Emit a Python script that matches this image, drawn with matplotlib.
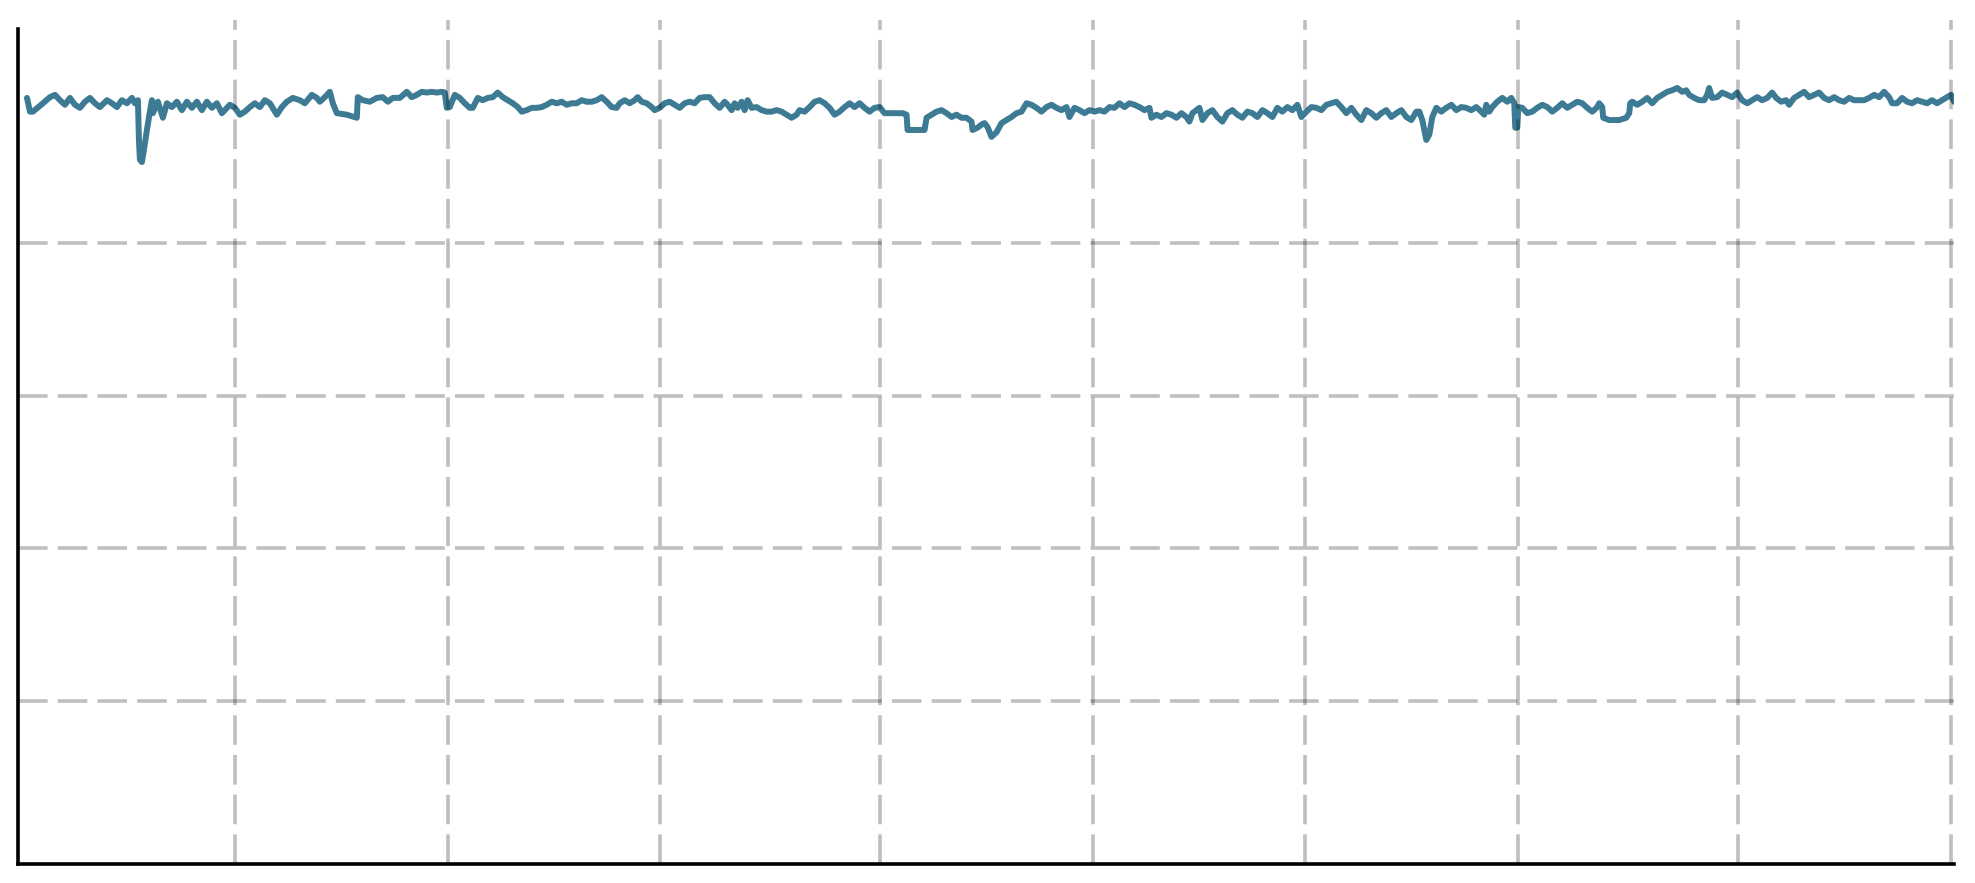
import matplotlib
matplotlib.use("Agg")
import matplotlib.pyplot as plt

# time index (samples) and measured value
t = [0, 1.5, 3, 8, 11.5, 14, 16.5, 19, 21.5, 24, 26.5, 29, 31.5, 34, 36.5, 40, 42.5, 45, 47.5, 50,
     52.5, 54, 55.5, 56, 56.5, 57.5, 58.5, 60, 61.5, 62.5, 63, 65.5, 68, 70, 72.5, 75, 77.5, 80, 82.5, 85,
     87.5, 90, 92.5, 95, 97.5, 101.5, 104, 106.5, 109, 111.5, 114, 116.5, 119, 121.5, 125, 127.5, 130, 133, 136.5, 139,
     142.5, 145, 146.5, 149, 151.5, 153, 155, 160, 165, 165.5, 168, 171.5, 175, 178, 180.5, 183,
     186.5, 190, 192.5, 195, 197.5, 200, 202.5, 205, 207.5, 209, 210, 211.5, 214, 216.5, 219, 221.5, 223, 225.5, 228, 230.5,
     233, 235.5, 238, 240.5, 243, 245.5, 247.5, 250, 252.5, 255, 257.5, 260, 262.5, 265, 267.5, 270, 272.5, 275, 277.5, 280,
     282.5, 285, 287.5, 290, 292.5, 295, 296.5, 299, 301.5, 304, 305.5, 307.5, 310, 312.5, 314, 316.5, 319, 321.5, 324, 326.5,
     329, 331.5, 334, 336.5, 339, 341.5, 344, 346.5, 349, 350.5, 352.5, 354, 355.5, 357.5, 359, 360.5, 362.5, 365, 367.5, 370,
     372.5, 375, 377.5, 380, 382.5, 385,
     386.5, 389, 391.5, 394, 396.5, 399, 401.5, 404, 406.5, 409, 411.5, 414, 416.5, 419, 421.5, 424, 426.5, 429, 431.5, 435,
     438, 440, 440.5, 443, 446.5, 449, 450, 452.5, 455, 457.5, 460, 462.5, 465, 467.5, 470, 472.5, 473, 475.5, 477.5, 479,
     480.5, 482.5, 485, 487.5, 490, 492.5, 495, 497.5, 500, 502.5, 505, 507.5, 510, 512.5, 515, 517.5, 520, 521.5, 524, 526.5,
     529, 531.5, 534, 536.5, 539, 541.5, 544, 546.5, 549, 551.5, 554, 556.5, 559, 561.5, 562.5, 565, 567.5, 570, 572.5, 575,
     577.5, 580, 581.5, 583,
     586.5, 588, 590.5, 593, 595.5, 598, 600.5, 603, 605.5, 608, 610.5, 613, 615.5, 618, 620.5, 623, 625.5, 628, 630.5, 633,
     635.5, 637.5, 640, 642.5, 645, 647.5, 650, 652.5, 655, 657.5, 660, 662.5, 665, 667.5, 670, 672.5, 675, 677.5, 680, 682.5,
     685, 687.5, 690, 692.5, 695, 696.5, 698, 700, 701.5, 703, 705, 707.5, 710, 712.5, 715, 717.5, 720, 722.5, 725, 727.5,
     729, 730, 731.5, 733, 735.5, 738, 740.5, 742.5, 744, 744.5, 745.5, 746, 748, 750.5, 753, 755.5, 758, 760.5, 763, 765.5,
     768, 770.5, 773, 775.5, 778, 780.5, 783, 785.5,
     786.5, 788, 788.5, 791.5, 796.5, 800, 801.5, 802, 803, 805.5, 808, 810.5, 813, 815.5, 818, 820.5, 823, 825.5, 828, 830,
     831.5, 834, 836.5, 839, 840.5, 841.5, 843, 845.5, 848, 850.5, 853, 855.5, 858, 860.5, 863, 865.5, 868, 870.5, 873, 875,
     877.5, 880, 881.5, 884, 886.5, 889, 891.5, 894, 896.5, 899, 901.5, 904, 906.5, 909, 911.5, 914, 916.5, 919, 921.5, 924,
     926.5, 929, 931.5, 933, 935.5, 938, 940.5, 943, 945.5, 948, 950.5, 953, 955.5, 958, 960.5, 962.5, 964]

value = [990, 972, 972, 983, 991, 994, 987, 981, 990, 981, 977, 985, 990, 983, 978, 987, 983, 978, 987, 983,
         990, 983, 987, 935, 909, 906, 922, 948, 972, 987, 970, 985, 964, 983, 978, 985, 974, 985, 977, 985,
         974, 985, 977, 983, 970, 981, 977, 968, 972, 978, 983, 978, 987, 983, 968, 978, 985, 990, 987, 983,
         994, 990, 985, 991, 998, 983, 970, 968, 964, 991, 987, 985, 990, 991, 985, 990,
         990, 998, 991, 994, 998, 997, 998, 997, 998, 997, 977, 978, 994, 990, 983, 977, 977, 990, 987, 990,
         991, 997, 991, 987, 983, 978, 972, 974, 977, 977, 978, 981, 985, 983, 985, 981, 983, 983, 987, 985,
         985, 987, 991, 985, 978, 977, 983, 987, 983, 987, 991, 985, 983, 978, 974, 977, 983, 985, 981, 977,
         983, 985, 983, 990, 991, 991, 983, 977, 985, 981, 974, 983, 977, 985, 974, 987, 977, 978, 974, 972,
         972, 974, 972, 968, 964, 968,
         974, 972, 978, 985, 987, 983, 977, 968, 972, 978, 983, 978, 983, 977, 972, 977, 978, 970, 970, 970,
         970, 968, 948, 948, 948, 948, 964, 968, 972, 974, 970, 965, 968, 964, 964, 959, 948, 951, 955, 957,
         952, 939, 945, 957, 961, 965, 970, 972, 983, 981, 977, 972, 978, 981, 977, 974, 978, 965, 977, 974,
         970, 974, 972, 974, 972, 978, 977, 983, 978, 983, 981, 978, 974, 977, 964, 968, 965, 970, 968, 964,
         970, 965, 959, 970,
         977, 961, 970, 974, 965, 959, 970, 974, 968, 964, 972, 970, 965, 974, 970, 965, 977, 972, 978, 974,
         981, 965, 972, 978, 977, 974, 981, 983, 985, 978, 970, 977, 968, 961, 974, 970, 964, 970, 974, 965,
         970, 974, 965, 961, 972, 972, 961, 935, 942, 965, 977, 972, 977, 981, 974, 978, 977, 974, 978, 972,
         968, 981, 972, 978, 985, 990, 985, 990, 983, 951, 951, 978, 977, 970, 972, 977, 981, 978, 972, 977,
         983, 977, 981, 985, 983, 977, 972, 978,
         983, 978, 964, 961, 961, 964, 970, 983, 985, 981, 985, 990, 983, 990, 994, 998, 1000, 1003, 998, 1000,
         994, 990, 987, 987, 994, 1003, 990, 991, 997, 994, 991, 997, 987, 983, 987, 991, 987, 990, 997, 990,
         985, 987, 981, 990, 994, 998, 991, 994, 997, 990, 987, 991, 987, 985, 990, 987, 987, 987, 990, 994,
         991, 998, 991, 983, 983, 990, 985, 983, 987, 985, 983, 987, 983, 987, 991, 994, 985]

x_ticks = [104.1, 210.4, 316.7, 426.9, 533.2, 639.4, 745.7, 856.0, 962.6]
y_ticks = [200, 400, 600, 800]

fig = plt.figure(figsize=(19.75, 8.83), dpi=100)
ax = fig.add_axes([0.0091, 0.0215, 0.9803, 0.9559])

ax.plot(t, value, color='#3d7a94', linewidth=4.3, solid_joinstyle='round',
        solid_capstyle='round', zorder=2)

ax.set_xlim(-4.5, 964)
ax.set_ylim(-13.4, 1092.1)
ax.set_xticks(x_ticks)
ax.set_yticks(y_ticks)
ax.tick_params(axis='both', which='both', length=0, labelleft=False, labelbottom=False)

ax.set_axisbelow(False)
ax.grid(True, color='black', alpha=0.25, linewidth=2.6, linestyle=(0, (8.2, 2.8)), zorder=3)

ax.spines['top'].set_visible(False)
ax.spines['right'].set_visible(False)
ax.spines['left'].set_linewidth(2.6)
ax.spines['bottom'].set_linewidth(2.6)
ax.spines['left'].set_bounds(-13.4, 1080.3)

fig.savefig('out.png', dpi=100, facecolor='white')
